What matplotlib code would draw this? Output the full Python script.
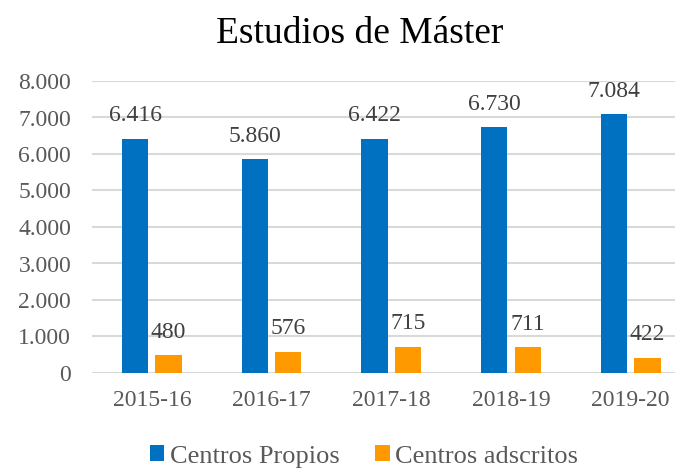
import matplotlib.pyplot as plt
import numpy as np

plt.rcParams["font.family"] = ["Liberation Serif", "DejaVu Serif"]

years = ["2015-16", "2016-17", "2017-18", "2018-19", "2019-20"]
propios = [6416, 5860, 6422, 6730, 7084]
adscritos = [480, 576, 715, 711, 422]
series_names = ["Centros Propios", "Centros adscritos"]
y_ticks = [0, 1000, 2000, 3000, 4000, 5000, 6000, 7000, 8000]


def fmt(v):
    return f"{v:,}".replace(",", ".")


fig = plt.figure(figsize=(6.75, 4.69), dpi=100)
ax = fig.add_axes([92 / 675, 1 - 373 / 469, 1 - 92 / 675, (373 - 81) / 469])

x = np.arange(len(years))
w = 0.22
b1 = ax.bar(x - 0.14, propios, w, color="#0070C0", label=series_names[0], zorder=3)
b2 = ax.bar(x + 0.14, adscritos, w, color="#FF9900", label=series_names[1], zorder=3)

for bars in (b1, b2):
    ax.bar_label(bars, labels=[fmt(b.get_height()) for b in bars], padding=9,
                 fontsize=17, color="#404040")

ax.set_ylim(0, 8000)
ax.set_xlim(-0.5, 4.37)
ax.set_yticks(y_ticks)
ax.set_yticklabels([fmt(v) for v in y_ticks])
ax.set_xticks(x)
ax.set_xticklabels(years)
ax.tick_params(axis="y", length=0, pad=15, labelsize=17, labelcolor="#595959")
ax.tick_params(axis="x", length=0, pad=12, labelsize=17, labelcolor="#595959")
ax.grid(axis="y", color="#d9d9d9", linewidth=1.5, zorder=0)
for s in ax.spines.values():
    s.set_visible(False)

fig.suptitle("Estudios de Máster", fontsize=27, x=0.533, y=0.965)
fig.legend(handles=[b1, b2], loc="lower center", bbox_to_anchor=(0.539, -0.048), ncol=2,
           frameon=False, fontsize=19, labelcolor="#595959", handlelength=0.55,
           handleheight=0.55, handletextpad=0.2, columnspacing=1.35)

fig.savefig("out.png", dpi=100)
